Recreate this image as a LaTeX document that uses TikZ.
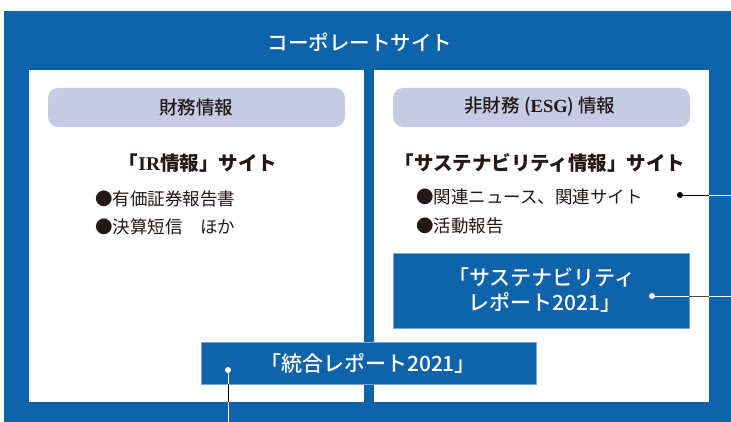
\documentclass[tikz,border=0pt]{standalone}
\usepackage{fontspec}
\setmainfont{Noto Sans CJK JP}
\newfontfamily\jpm{Noto Sans CJK JP Medium}
\newfontfamily\lserif{Liberation Serif}
\definecolor{cblue}{RGB}{14,99,171}
\definecolor{cpill}{RGB}{197,203,228}
\definecolor{ctext}{RGB}{35,24,21}
\definecolor{cedge}{RGB}{120,165,210}
\begin{document}
\begin{tikzpicture}[x=1pt,y=-1pt,
  every node/.style={inner sep=0pt,outer sep=0pt},
  frame/.style={fill=cblue,anchor=north west},
  panel/.style={fill=white,anchor=north west,minimum width=335,minimum height=332},
  pill/.style={fill=cpill,rounded corners=10pt,anchor=north west,minimum width=297,minimum height=39},
  pilltext/.style={text=ctext,font=\jpm\fontsize{18.5}{20}\selectfont},
  headtext/.style={text=ctext,font=\bfseries\fontsize{19.5}{21}\selectfont},
  bullettext/.style={text=ctext,font=\fontsize{17.5}{19}\selectfont,anchor=west},
  report/.style={fill=cblue,draw=cedge,line width=0.6pt,anchor=north west},
  reporttext/.style={text=white,font=\jpm\fontsize{21}{25}\selectfont},
  dotb/.style={circle,fill=black,minimum size=6},
  dotw/.style={circle,fill=white,minimum size=6},
  conn/.style={line width=0.9pt}]
\useasboundingbox (0,0) rectangle (731,422);
% outer frame
\node[frame,minimum width=727,minimum height=411] (outer) at (4,11) {};
\node[text=white,font=\jpm\fontsize{20.5}{22}\selectfont] (title) at (360,42) {コーポレートサイト};
% panels
\node[panel] (left) at (29,70) {};
\node[panel] (right) at (374,70) {};
% pills
\node[pill] (pillL) at (48,88) {};
\node[pilltext] at (196,107) {財務情報};
\node[pill] (pillR) at (393,88) {};
\node[pilltext] at (540,107) {非財務 ({\lserif\bfseries ESG}) 情報};
% left content
\node[headtext] (headL) at (198,163) {「{\lserif IR}情報」サイト};
\node[bullettext] (bL1) at (95,199) {●有価証券報告書};
\node[bullettext] (bL2) at (95,227) {●決算短信\hspace{1em}ほか};
% right content
\node[headtext] (headR) at (540,163) {「サステナビリティ情報」サイト};
\node[bullettext] (bR1) at (416,197) {●関連ニュース、関連サイト};
\node[bullettext] (bR2) at (416,226) {●活動報告};
% sustainability report
\node[report,minimum width=296,minimum height=75] (sus) at (393,253) {};
\node[reporttext,align=left] (susT) at (542,290) {「サステナビリティ\\\hspace{0.95em}レポート2021」};
% integrated report
\node[report,minimum width=335,minimum height=42] (integ) at (201,342) {};
\node[reporttext] (integT) at (368,363) {「統合レポート2021」};
% dots
\node[dotb] (d1) at (680,195) {};
\node[dotw] (d2) at (652,296) {};
\node[dotw] (d3) at (228,370) {};
\coordinate (e1) at (731,195);
\coordinate (e2) at (731,296);
\coordinate (e3) at (228,422);
% connectors
\draw[conn,black] (d1.center) -- (d1 -| right.east);
\draw[conn,white] (d1 -| right.east) -- (e1);
\draw[conn,white] (d2.center) -- (d2 -| sus.east);
\draw[conn,black!70] (d2 -| sus.east) -- (d2 -| right.east);
\draw[conn,white] (d2 -| right.east) -- (e2);
\draw[conn,white] (d3.center) -- (d3 |- integ.south);
\draw[conn,black] (d3 |- integ.south) -- (d3 |- left.south);
\draw[conn,white] (d3 |- left.south) -- (e3);
\end{tikzpicture}
\end{document}
